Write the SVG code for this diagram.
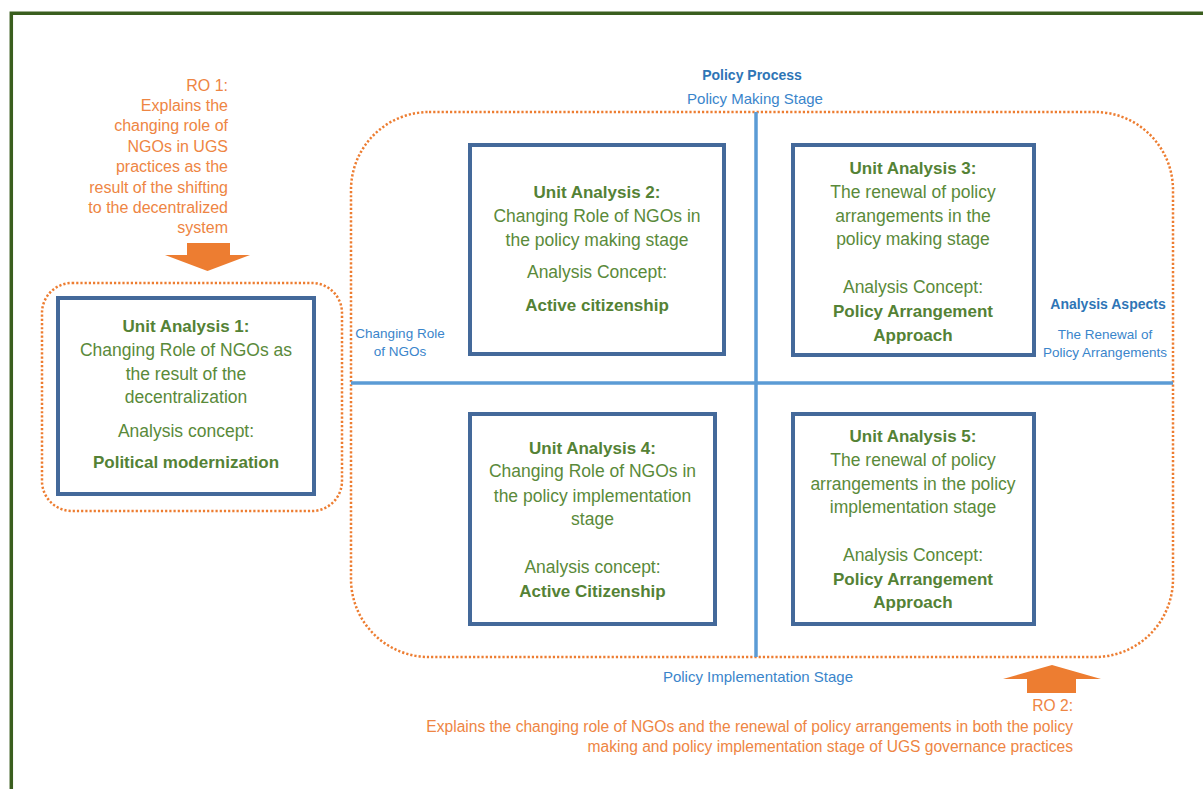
<svg xmlns="http://www.w3.org/2000/svg" width="1203" height="789" viewBox="0 0 1203 789">
  <style>
    .frame { fill: none; stroke: #3A5E1E; stroke-width: 3.5; }
    .dotted { fill: none; stroke: #ED7D31; stroke-width: 2.5; stroke-dasharray: 2.2 2; }
    .unit { fill: #FFFFFF; stroke: #44699A; stroke-width: 4; }
    .axis { stroke: #5B9BD5; stroke-width: 3.5; fill: none; }
    .arrow { fill: #ED7D31; }
    text { font-family: "Liberation Sans", Arial, sans-serif; }
    .g { fill: #5A8A3A; font-size: 17.5px; text-anchor: middle; }
    .gb { fill: #548235; font-size: 17px; font-weight: bold; text-anchor: middle; }
    .o1 { fill: #EE8543; font-size: 16px; text-anchor: end; }
    .o2 { fill: #EE8543; font-size: 15.6px; text-anchor: end; }
    .bb { fill: #2E75B6; font-size: 14px; font-weight: bold; text-anchor: middle; }
    .b { fill: #3A85CB; font-size: 15px; text-anchor: middle; }
    .bs { fill: #3A85CB; font-size: 13.5px; text-anchor: middle; }
  </style>

  <rect width="1203" height="789" fill="#FFFFFF"/>
  <!-- outer page frame (runs off the right and bottom edges) -->
  <path class="frame" d="M11.3 800 V13.3 H1210"/>

  <!-- dotted grouping outlines -->
  <g id="group-ro1">
    <rect class="dotted" x="42" y="283" width="300" height="228" rx="30" ry="30"/>
  </g>
  <g id="group-ro2">
    <rect class="dotted" x="351" y="112" width="822" height="545" rx="78" ry="78"/>
  </g>

  <!-- axes of the analysis matrix and the objective arrows -->
  <g id="connectors">
    <line class="axis" x1="756" y1="112" x2="756" y2="657"/>
    <line class="axis" x1="351" y1="383" x2="1173" y2="383"/>
    <polygon class="arrow" points="187,243 230,243 230,255 250,255 207.5,271 165,255 187,255"/>
    <polygon class="arrow" points="1052,665 1101,679 1076,679 1076,693 1027,693 1027,679 1003,679"/>
  </g>

  <!-- axis labels -->
  <g id="axis-labels">
    <text class="bb" x="752" y="80">Policy Process</text>
    <text class="b" x="755" y="104">Policy Making Stage</text>
    <text class="b" x="758" y="682">Policy Implementation Stage</text>
    <text class="bs" x="400" y="338">Changing Role</text>
    <text class="bs" x="400" y="356">of NGOs</text>
    <text class="bb" x="1108" y="309">Analysis Aspects</text>
    <text class="bs" x="1105" y="339">The Renewal of</text>
    <text class="bs" x="1105" y="357">Policy Arrangements</text>
  </g>

  <!-- research objectives -->
  <g id="ro1">
    <text class="o1" x="228" y="91">RO 1:</text>
    <text class="o1" x="228" y="111">Explains the</text>
    <text class="o1" x="228" y="131">changing role of</text>
    <text class="o1" x="228" y="152">NGOs in UGS</text>
    <text class="o1" x="228" y="172">practices as the</text>
    <text class="o1" x="228" y="193">result of the shifting</text>
    <text class="o1" x="228" y="213">to the decentralized</text>
    <text class="o1" x="228" y="233">system</text>
  </g>
  <g id="ro2">
    <text class="o2" x="1073" y="711">RO 2:</text>
    <text class="o2" x="1073" y="732">Explains the changing role of NGOs and the renewal of policy arrangements in both the policy</text>
    <text class="o2" x="1073" y="752">making and policy implementation stage of UGS governance practices</text>
  </g>

  <!-- units of analysis -->
  <g id="unit1">
    <rect class="unit" x="58" y="298" width="256" height="196"/>
    <text class="gb" x="186" y="332">Unit Analysis 1:</text>
    <text class="g" x="186" y="356">Changing Role of NGOs as</text>
    <text class="g" x="186" y="380">the result of the</text>
    <text class="g" x="186" y="403">decentralization</text>
    <text class="g" x="186" y="437">Analysis concept:</text>
    <text class="gb" x="186" y="468">Political modernization</text>
  </g>
  <g id="unit2">
    <rect class="unit" x="470" y="145" width="254" height="209"/>
    <text class="gb" x="597" y="198">Unit Analysis 2:</text>
    <text class="g" x="597" y="222">Changing Role of NGOs in</text>
    <text class="g" x="597" y="246">the policy making stage</text>
    <text class="g" x="597" y="278">Analysis Concept:</text>
    <text class="gb" x="597" y="311">Active citizenship</text>
  </g>
  <g id="unit3">
    <rect class="unit" x="793" y="145" width="241" height="210"/>
    <text class="gb" x="913" y="174">Unit Analysis 3:</text>
    <text class="g" x="913" y="198">The renewal of policy</text>
    <text class="g" x="913" y="222">arrangements in the</text>
    <text class="g" x="913" y="245">policy making stage</text>
    <text class="g" x="913" y="293">Analysis Concept:</text>
    <text class="gb" x="913" y="317">Policy Arrangement</text>
    <text class="gb" x="913" y="341">Approach</text>
  </g>
  <g id="unit4">
    <rect class="unit" x="470" y="414" width="245" height="210"/>
    <text class="gb" x="592.5" y="454">Unit Analysis 4:</text>
    <text class="g" x="592.5" y="477">Changing Role of NGOs in</text>
    <text class="g" x="592.5" y="502">the policy implementation</text>
    <text class="g" x="592.5" y="525">stage</text>
    <text class="g" x="592.5" y="573">Analysis concept:</text>
    <text class="gb" x="592.5" y="597">Active Citizenship</text>
  </g>
  <g id="unit5">
    <rect class="unit" x="793" y="414" width="241" height="210"/>
    <text class="gb" x="913" y="442">Unit Analysis 5:</text>
    <text class="g" x="913" y="466">The renewal of policy</text>
    <text class="g" x="913" y="490">arrangements in the policy</text>
    <text class="g" x="913" y="513">implementation stage</text>
    <text class="g" x="913" y="561">Analysis Concept:</text>
    <text class="gb" x="913" y="585">Policy Arrangement</text>
    <text class="gb" x="913" y="608">Approach</text>
  </g>
</svg>
